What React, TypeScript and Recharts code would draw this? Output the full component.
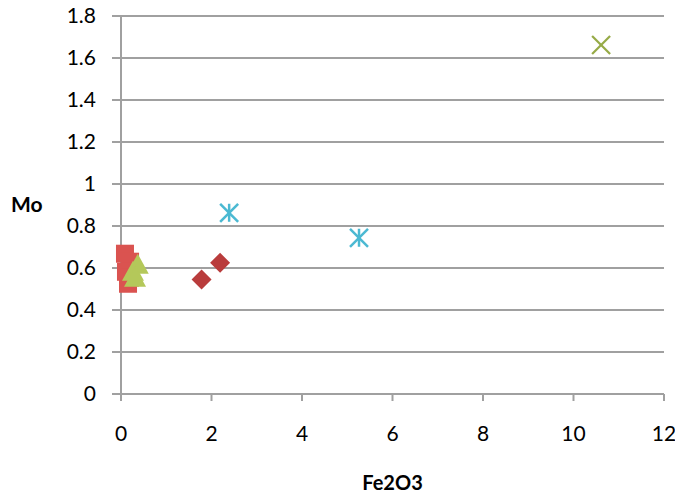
import React from 'react';
import { ScatterChart, Scatter, XAxis, YAxis, CartesianGrid, Label } from 'recharts';

// sample points (Fe2O3 vs Mo)
const squarePts = [
  { x: 0.088, y: 0.668 },
  { x: 0.2, y: 0.63 },
  { x: 0.11, y: 0.582 },
  { x: 0.2, y: 0.554 },
  { x: 0.155, y: 0.525 },
];
const trianglePts = [
  { x: 0.37, y: 0.62 },
  { x: 0.265, y: 0.587 },
  { x: 0.31, y: 0.558 },
];
const diamondPts = [
  { x: 1.78, y: 0.545 },
  { x: 2.19, y: 0.625 },
];
const starPts = [
  { x: 2.39, y: 0.863 },
  { x: 5.26, y: 0.744 },
];
const crossPts = [{ x: 10.61, y: 1.662 }];

const xTicks = [0, 2, 4, 6, 8, 10, 12];
const yTicks = [0, 0.2, 0.4, 0.6, 0.8, 1, 1.2, 1.4, 1.6, 1.8];

const gridColor = '#A0A0A0';
const font = 'Lato, "Open Sans", sans-serif';

const SquareMark = (props: any) => {
  const { cx, cy } = props;
  return <rect x={cx - 9} y={cy - 9} width={18} height={18} fill="#DA5350" />;
};

const TriangleMark = (props: any) => {
  const { cx, cy } = props;
  return <polygon points={`${cx},${cy - 10} ${cx + 11},${cy + 10} ${cx - 11},${cy + 10}`} fill="#B4C85A" />;
};

const DiamondMark = (props: any) => {
  const { cx, cy } = props;
  return <polygon points={`${cx},${cy - 10} ${cx + 10},${cy} ${cx},${cy + 10} ${cx - 10},${cy}`} fill="#B93C3C" />;
};

const StarMark = (props: any) => {
  const { cx, cy } = props;
  const r = 9;
  return (
    <g stroke="#4BB9D2" strokeWidth={2.5}>
      <line x1={cx - r} y1={cy - r} x2={cx + r} y2={cy + r} />
      <line x1={cx - r} y1={cy + r} x2={cx + r} y2={cy - r} />
      <line x1={cx} y1={cy - r} x2={cx} y2={cy + r} />
    </g>
  );
};

const CrossMark = (props: any) => {
  const { cx, cy } = props;
  const r = 9;
  return (
    <g stroke="#96AA46" strokeWidth={2.2}>
      <line x1={cx - r} y1={cy - r} x2={cx + r} y2={cy + r} />
      <line x1={cx - r} y1={cy + r} x2={cx + r} y2={cy - r} />
    </g>
  );
};

export default function App() {
  return (
    <div style={{ position: 'absolute', left: 0, top: 0, width: 675, height: 500, background: '#fff' }}>
      <ScatterChart width={675} height={500} margin={{ top: 16, right: 11, bottom: 10, left: 11 }}>
        <CartesianGrid vertical={false} stroke={gridColor} strokeWidth={2} />
        <XAxis
          type="number"
          dataKey="x"
          domain={[0, 12]}
          ticks={xTicks}
          height={96}
          stroke={gridColor}
          strokeWidth={2}
          tickSize={7}
          tickMargin={25}
          tick={{ fill: '#000', fontSize: 21, fontFamily: font }}
        >
          <Label value="Fe2O3" position="insideBottom" offset={0} style={{ fontFamily: font, fontSize: 20, fontWeight: 'bold', fill: '#000' }} />
        </XAxis>
        <YAxis
          type="number"
          dataKey="y"
          domain={[0, 1.8]}
          ticks={yTicks}
          width={110}
          stroke={gridColor}
          strokeWidth={2}
          tickSize={9}
          tickMargin={16}
          tick={{ fill: '#000', fontSize: 21, fontFamily: font }}
        >
          <Label value="Mo" position="insideLeft" offset={0} style={{ fontFamily: font, fontSize: 21, fontWeight: 'bold', fill: '#000', textAnchor: 'start' }} />
        </YAxis>
        <Scatter data={squarePts} shape={SquareMark} isAnimationActive={false} />
        <Scatter data={trianglePts} shape={TriangleMark} isAnimationActive={false} />
        <Scatter data={diamondPts} shape={DiamondMark} isAnimationActive={false} />
        <Scatter data={starPts} shape={StarMark} isAnimationActive={false} />
        <Scatter data={crossPts} shape={CrossMark} isAnimationActive={false} />
      </ScatterChart>
    </div>
  );
}
